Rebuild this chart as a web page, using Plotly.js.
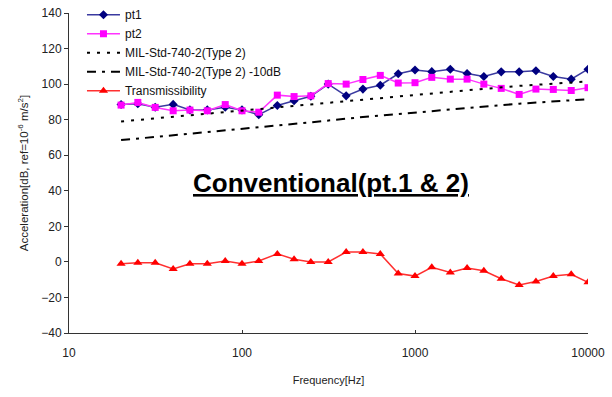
<!DOCTYPE html>
<html>
<head>
<meta charset="utf-8">
<script src="https://cdn.plot.ly/plotly-3.0.1.min.js"></script>
<style>html,body{margin:0;padding:0;background:#fff;}#chart{width:612px;height:397px;}</style>
</head>
<body>
<div id="chart"></div>
<script>
var freq = [20, 25, 31.5, 40, 50, 63, 80, 100, 125, 160, 200, 250, 315, 400, 500, 630, 800, 1000, 1250, 1600, 2000, 2500, 3150, 4000, 5000, 6300, 8000, 10000];
var pt1 = [88.5, 89, 87, 88.6, 85.5, 85.5, 87, 85.5, 82.8, 88, 90.6, 93.2, 100, 93.4, 97.2, 99.4, 105.8, 107.9, 107, 108.4, 106, 104.3, 106.9, 106.9, 107.5, 104.3, 102.8, 108.4];
var pt2 = [88.2, 89.7, 86.9, 85, 85.4, 85, 88.5, 85, 84.2, 93.8, 93, 93.4, 100.3, 100, 102.6, 104.9, 100.6, 100.8, 103.8, 102.8, 102.8, 100, 97.6, 94.2, 97.2, 97, 96.4, 98];
var trans = [-1, -0.5, -0.5, -4, -1, -1, 0.5, -1, 0.5, 4.5, 1.5, 0, 0, 5.5, 5.5, 4.5, -6.5, -8, -3, -6, -3.5, -5, -9.5, -13, -11, -8, -7, -11.5];
var milFreq = [20, 50, 100, 250, 500, 1000, 2000, 4000, 10000];
var mil = [79, 82.5, 85, 88.5, 91.5, 94, 96.5, 99, 101.5];
var mil10 = [68.5, 72, 75, 78.5, 81.5, 84, 86.5, 89, 91.5];
var seriesNames = ["pt1", "pt2", "MIL-Std-740-2(Type 2)", "MIL-Std-740-2(Type 2) -10dB", "Transmissibility"];
var xTicks = [10, 100, 1000, 10000];
var yTicks = [-40, -20, 0, 20, 40, 60, 80, 100, 120, 140];

var traces = [
  {x: freq, y: pt1, name: seriesNames[0], mode: "lines+markers", type: "scatter",
   line: {color: "#3a3aa0", width: 1.5}, marker: {symbol: "diamond", size: 7, color: "#000080"}},
  {x: freq, y: pt2, name: seriesNames[1], mode: "lines+markers", type: "scatter",
   line: {color: "#ff33ff", width: 1.5}, marker: {symbol: "square", size: 7, color: "#ff00ff"}},
  {x: milFreq, y: mil, name: seriesNames[2], mode: "lines", type: "scatter",
   line: {color: "#000000", width: 2, dash: "3px,7px"}},
  {x: milFreq, y: mil10, name: seriesNames[3], mode: "lines", type: "scatter",
   line: {color: "#000000", width: 2, dash: "9px,6px,3px,6px"}},
  {x: freq, y: trans, name: seriesNames[4], mode: "lines+markers", type: "scatter",
   line: {color: "#ff3030", width: 1.5}, marker: {symbol: "triangle-up", size: 8, color: "#ff0000"}}
];

var layout = {
  width: 612, height: 397,
  margin: {l: 69, r: 24, t: 13, b: 64, autoexpand: false},
  paper_bgcolor: "#ffffff", plot_bgcolor: "#ffffff",
  font: {family: "Liberation Sans, Arial, sans-serif", size: 12, color: "#222"},
  showlegend: true,
  legend: {x: 0.025, y: 1.04, xanchor: "left", yanchor: "top", bgcolor: "rgba(0,0,0,0)",
           font: {size: 12, color: "#111"}, tracegroupgap: 0, itemwidth: 33},
  xaxis: {type: "log", range: [1, 4], tickvals: xTicks, ticktext: xTicks.map(String),
          showgrid: false, zeroline: false, showline: true, linecolor: "#333", linewidth: 1,
          ticks: "inside", ticklen: 3, tickcolor: "#333", tickfont: {size: 12, color: "#222"},
          ticklabelstandoff: 9, automargin: false,
          title: {text: "Frequency[Hz]", font: {size: 11, color: "#222"}, standoff: 16}},
  yaxis: {range: [-40, 140], tickvals: yTicks, showgrid: false, zeroline: false,
          showline: true, linecolor: "#333", linewidth: 1, ticks: "outside", ticklen: 4,
          tickcolor: "#333", tickfont: {size: 12, color: "#222"}, automargin: false,
          title: {text: "Acceleration[dB, ref=10<sup>-6</sup> m/s<sup>2</sup>]", font: {size: 11.5, color: "#222"}, standoff: 10}},
  annotations: [{
    xref: "paper", yref: "paper", x: 0.505, y: 0.469, showarrow: false,
    text: "<b><u>Conventional(pt.1 &amp; 2)</u></b>",
    font: {size: 26, color: "#000", family: "Liberation Sans, Arial, sans-serif"}
  }]
};

Plotly.newPlot("chart", traces, layout, {displayModeBar: false, staticPlot: true});
</script>
</body>
</html>
